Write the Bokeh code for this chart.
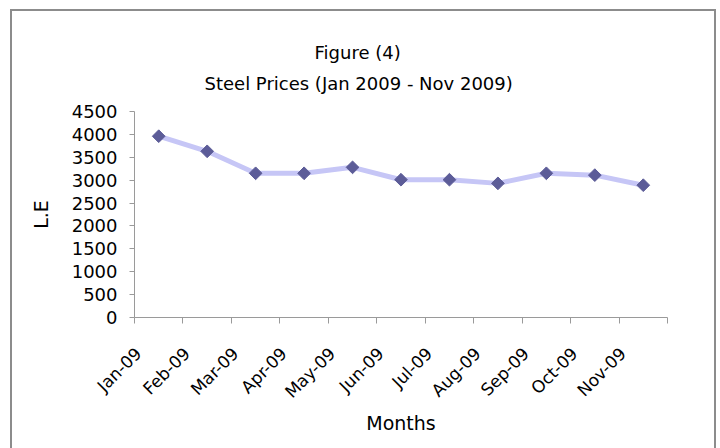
from math import pi
from bokeh.plotting import figure
from bokeh.models import (Range1d, LinearAxis, FixedTicker, Title, InlineStyleSheet)
from bokeh.embed import file_html
from bokeh.resources import INLINE

# ---- data ----
months = ["Jan-09", "Feb-09", "Mar-09", "Apr-09", "May-09", "Jun-09",
          "Jul-09", "Aug-09", "Sep-09", "Oct-09", "Nov-09"]
prices = [3960, 3630, 3150, 3150, 3280, 3010, 3010, 2930, 3150, 3110, 2890]
y_ticks = [0, 500, 1000, 1500, 2000, 2500, 3000, 3500, 4000, 4500]
title_line1 = "Figure (4)"
title_line2 = "Steel Prices (Jan 2009 - Nov 2009)"
x_title = "Months"
y_title = "L.E"

# category slots: centers for points, edges for tick marks
n = len(months)
x_centers = [i + 0.5 for i in range(n)]
x_edges = list(range(n + 1))
LABEL_SHIFT = 0.42          # rotated labels sit left of the slot centre
label_ticks = [c - LABEL_SHIFT for c in x_centers]

FONT = "DejaVu Sans"
AXIS_GRAY = "#9a9a9a"

p = figure(width=720, height=448,
           x_range=Range1d(0, n),
           y_range=Range1d(y_ticks[0], y_ticks[-1]),
           output_backend="svg", toolbar_location=None, title=None,
           x_axis_location=None, y_axis_location=None,
           min_border_left=134, min_border_right=53,
           min_border_top=111, min_border_bottom=131)
p.outline_line_color = None
p.background_fill_color = "white"
p.border_fill_color = "white"
p.grid.grid_line_color = None

# outer chart border (top/left/right visible, bottom runs off the page)
p.stylesheets = [InlineStyleSheet(css="""
:host::after {
  content: "";
  position: absolute;
  left: 10px; top: 9px; right: 4px; bottom: 0px;
  border: 2px solid #8c8c8c;
  border-bottom: none;
  pointer-events: none;
}
""")]

# titles (first added = closest to frame)
p.add_layout(Title(text=title_line2, align="left", offset=70,
                   text_font=FONT, text_font_size="18px",
                   text_font_style="normal", text_color="black",
                   standoff=36), "above")
p.add_layout(Title(text=title_line1, align="left", offset=180,
                   text_font=FONT, text_font_size="18px",
                   text_font_style="normal", text_color="black",
                   standoff=-20), "above")

# x axis: minor ticks at slot edges, rotated labels
xax = LinearAxis(ticker=FixedTicker(ticks=label_ticks, minor_ticks=x_edges),
                 major_label_overrides={t: m for t, m in zip(label_ticks, months)},
                 axis_label=x_title,
                 major_label_orientation=pi / 4,
                 axis_line_color=AXIS_GRAY,
                 major_tick_line_color=None, major_tick_in=0, major_tick_out=6,
                 minor_tick_line_color=AXIS_GRAY, minor_tick_in=0, minor_tick_out=6,
                 major_label_standoff=27,
                 major_label_text_font=FONT,
                 major_label_text_font_size="17px",
                 major_label_text_color="black",
                 axis_label_text_font=FONT,
                 axis_label_text_font_size="19px",
                 axis_label_text_font_style="normal",
                 axis_label_text_color="black",
                 axis_label_standoff=0)
p.add_layout(xax, "below")

# y axis
yax = LinearAxis(ticker=FixedTicker(ticks=y_ticks),
                 axis_label=y_title,
                 major_tick_in=0, major_tick_out=5,
                 minor_tick_in=0, minor_tick_out=0,
                 axis_line_color=AXIS_GRAY, major_tick_line_color=AXIS_GRAY,
                 major_label_standoff=12,
                 major_label_text_font=FONT,
                 major_label_text_font_size="18px",
                 major_label_text_color="black",
                 axis_label_text_font=FONT,
                 axis_label_text_font_size="19px",
                 axis_label_text_font_style="normal",
                 axis_label_text_color="black",
                 axis_label_standoff=17)
p.add_layout(yax, "left")

# series
p.line(x_centers, prices, line_color="#c6c6f6", line_width=5)
p.scatter(x_centers, prices, marker="square", size=9, angle=pi / 4,
          fill_color="#5c5c98", line_color="#5c5c98")

open("out.html", "w").write(file_html(p, INLINE))
